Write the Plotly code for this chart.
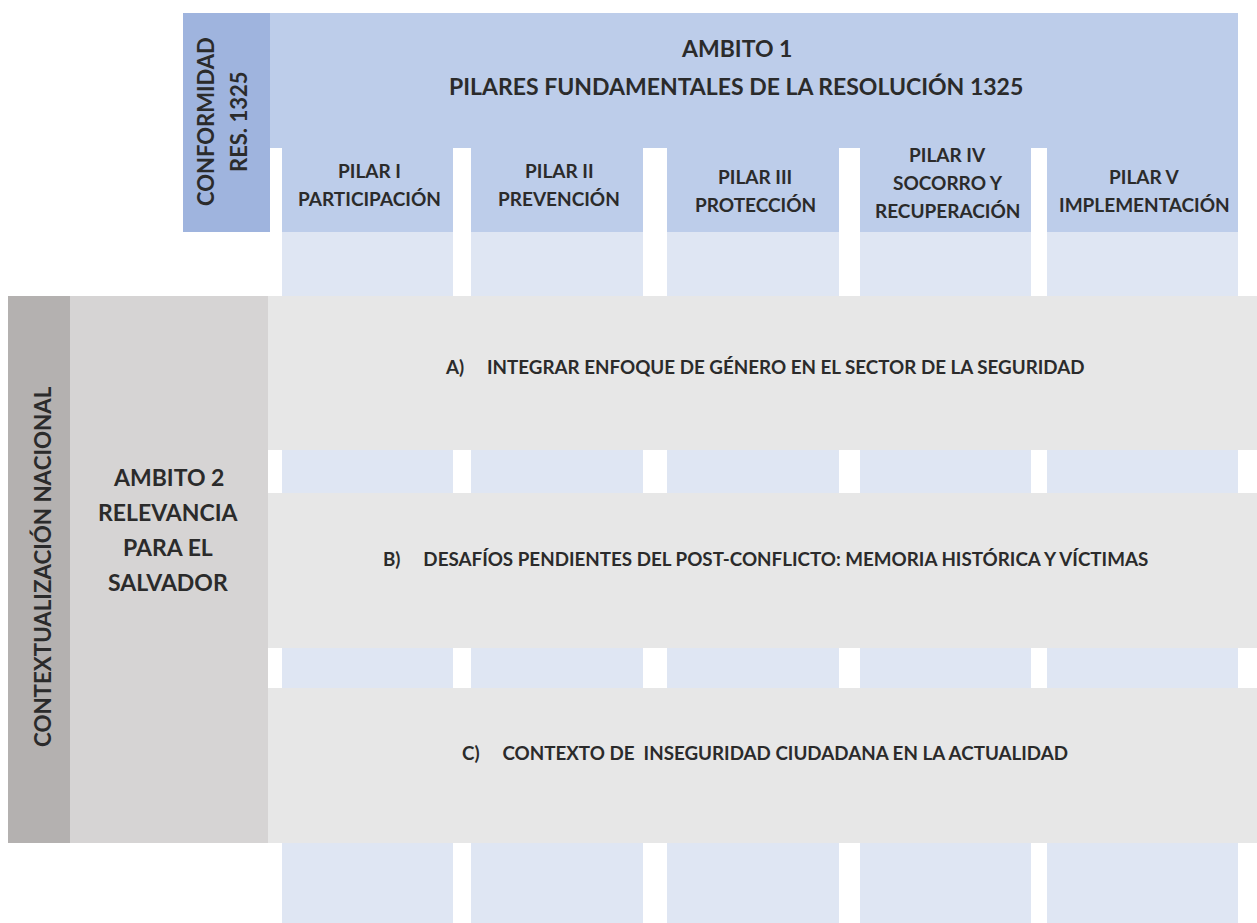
import plotly.graph_objects as go

# ---- content ----
header_lines = ["AMBITO 1", "PILARES FUNDAMENTALES DE LA RESOLUCIÓN 1325"]
conformidad_lines = ["CONFORMIDAD", "RES. 1325"]
pillar_labels = [
    ["PILAR I", "PARTICIPACIÓN"],
    ["PILAR II", "PREVENCIÓN"],
    ["PILAR III", "PROTECCIÓN"],
    ["PILAR IV", "SOCORRO Y", "RECUPERACIÓN"],
    ["PILAR V", "IMPLEMENTACIÓN"],
]
row_labels = [
    "A)     INTEGRAR ENFOQUE DE GÉNERO EN EL SECTOR DE LA SEGURIDAD",
    "B)     DESAFÍOS PENDIENTES DEL POST-CONFLICTO: MEMORIA HISTÓRICA Y VÍCTIMAS",
    "C)     CONTEXTO DE  INSEGURIDAD CIUDADANA EN LA ACTUALIDAD",
]
ambito2_lines = ["AMBITO 2", "RELEVANCIA", "PARA EL", "SALVADOR"]
side_label = "CONTEXTUALIZACIÓN NACIONAL"

# ---- layout geometry (pixels) ----
W, H = 1257, 923
col_x = [(282, 453), (471, 643), (667, 839), (860, 1031), (1047, 1238)]
pillar_center_y = [184, 184, 190, 182, 190]
row_y = [(296, 450), (493, 648), (688, 843)]
row_text_y = [366, 558, 752]

C_HEAD = "#bdcdea"
C_CONF = "#9fb4de"
C_COL = "#dfe6f3"
C_ROW = "#e7e7e7"
C_LEFT = "#d6d4d4"
C_DARK = "#b4b1b0"
TXT = "#2b2b2b"
FONT = "Lato"

shapes = []
def rect(x0, y0, x1, y1, color):
    shapes.append(dict(type="rect", xref="x", yref="y", x0=x0, x1=x1, y0=y0, y1=y1,
                       fillcolor=color, line=dict(width=0), layer="below"))

for (a, b) in col_x:
    rect(a, 232, b, H, C_COL)
rect(270, 13, 1238, 148, C_HEAD)
for (a, b) in col_x:
    rect(a, 147, b, 232, C_HEAD)
rect(183, 13, 270, 232, C_CONF)
for (a, b) in row_y:
    rect(268, a, W, b, C_ROW)
rect(8, 296, 70, 843, C_DARK)
rect(70, 296, 268, 843, C_LEFT)

ann = []
def text(x, y, s, size, angle=0):
    ann.append(dict(x=x, y=y, xref="x", yref="y", text=s, showarrow=False,
                    textangle=angle, xanchor="center", yanchor="middle",
                    font=dict(family=FONT, size=size, color=TXT, weight="bold")))

text(736, 48, header_lines[0], 23)
text(736, 86, header_lines[1], 23)

for (a, b), lines, cy in zip(col_x, pillar_labels, pillar_center_y):
    n = len(lines)
    for i, s in enumerate(lines):
        text((a + b) / 2 + 2, cy + (i - (n - 1) / 2) * 28, s, 19)

text(205, 122, conformidad_lines[0], 22, -90)
text(238, 122, conformidad_lines[1], 22, -90)

for ty, s in zip(row_text_y, row_labels):
    text(765, ty, s, 18.8)

for i, s in enumerate(ambito2_lines):
    text(168, 529 + (i - 1.5) * 35, s, 23)

text(42, 567, side_label, 22.3, -90)

fig = go.Figure()
fig.update_layout(
    width=W, height=H, margin=dict(l=0, r=0, t=0, b=0),
    paper_bgcolor="white", plot_bgcolor="white",
    xaxis=dict(range=[0, W], visible=False, fixedrange=True),
    yaxis=dict(range=[H, 0], visible=False, fixedrange=True),
    shapes=shapes, annotations=ann, showlegend=False,
)
fig.write_html(
    "out.html",
    config={"displayModeBar": False},
    post_script="document.body.style.margin='0';document.body.style.overflow='hidden';",
)
